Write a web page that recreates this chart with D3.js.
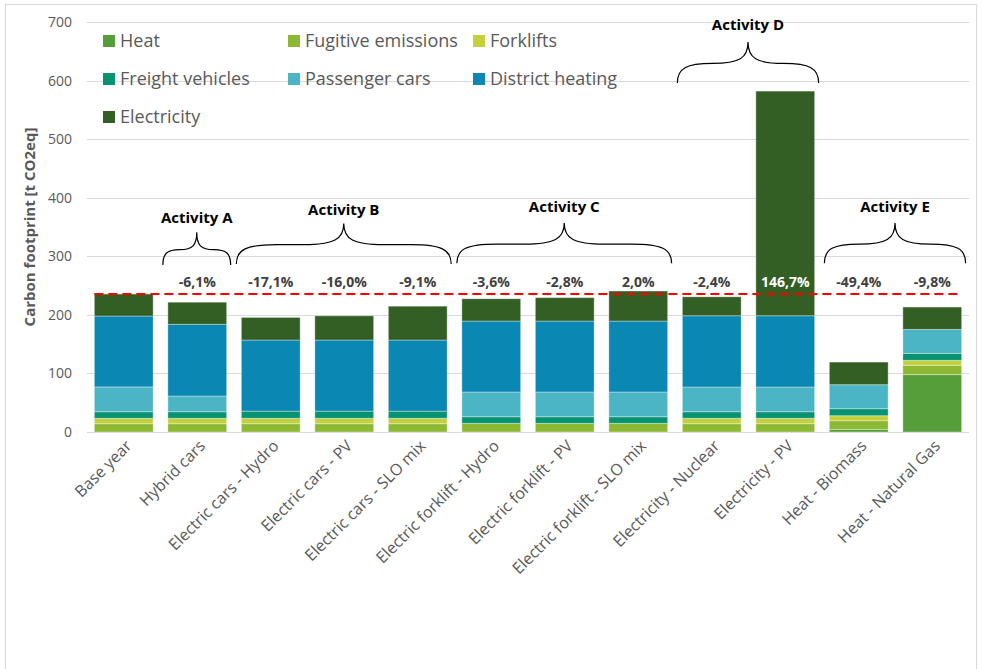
<!DOCTYPE html>
<html>
<head>
<meta charset="utf-8">
<script src="https://cdn.jsdelivr.net/npm/d3@7"></script>
<style>
  body { margin: 0; background: #fff; }
  text { font-family: "Open Sans", sans-serif; }
</style>
</head>
<body>
<script>
var categories = ["Base year", "Hybrid cars", "Electric cars - Hydro", "Electric cars - PV", "Electric cars - SLO mix",
  "Electric forklift - Hydro", "Electric forklift - PV", "Electric forklift - SLO mix", "Electricity - Nuclear",
  "Electricity - PV", "Heat - Biomass", "Heat - Natural Gas"];

// stacked bottom -> top
var seriesNames = ["Heat", "Fugitive emissions", "Forklifts", "Freight vehicles", "Passenger cars", "District heating", "Electricity"];
var heat      = [0, 0, 0, 0, 0, 0, 0, 0, 0, 0, 4.6, 98];
var fugitive  = [14.2, 14.2, 14.2, 14.2, 14.2, 14.8, 14.8, 14.8, 14.2, 14.2, 14.7, 15.8];
var forklifts = [9.2, 9.2, 9.2, 9.2, 9.2, 0, 0, 0, 9.2, 9.2, 8.5, 8.6];
var freight   = [11.2, 11.2, 12.2, 12.2, 12.2, 11.3, 11.3, 11.3, 11.2, 11.2, 12, 11.9];
var passenger = [42.4, 26.8, 0, 0, 0, 42.2, 42.2, 42.2, 42.2, 42.2, 41, 40.9];
var district  = [121, 122.4, 121.4, 121.4, 121.4, 121.1, 121.1, 121.1, 121.7, 121.7, 0, 0];
var electricity = [37.5, 37.8, 38.6, 41.3, 57.8, 38.1, 40, 51.3, 32.3, 383.5, 38.6, 38.1];

var changeLabels = ["", "-6,1%", "-17,1%", "-16,0%", "-9,1%", "-3,6%", "-2,8%", "2,0%", "-2,4%", "146,7%", "-49,4%", "-9,8%"];
var baseline = 235.5;

var activities = [
  {name: "Activity A", from: 1, to: 1, tip: 341, end: 285, label: 365},
  {name: "Activity B", from: 2, to: 4, tip: 356, end: 287, label: 379},
  {name: "Activity C", from: 5, to: 7, tip: 357, end: 288, label: 384},
  {name: "Activity D", from: 8, to: 9, tip: 666, end: 596, label: 696},
  {name: "Activity E", from: 10, to: 11, tip: 357, end: 288, label: 384}
];

var colours = ["#559e3a", "#8cb833", "#c5d13c", "#079372", "#4bb4c5", "#0a87b2", "#335f25"];
var yTicks = [0, 100, 200, 300, 400, 500, 600, 700];

var W = 982, H = 669;
var svg = d3.select("body").append("svg").attr("width", W).attr("height", H);

svg.append("rect").attr("x", 5.5).attr("y", 4.5).attr("width", 971).attr("height", 700)
  .attr("fill", "#fff").attr("stroke", "#d9d9d9");

var x = d3.scaleBand().domain(categories).range([87, 969]).paddingInner(0.2).paddingOuter(0.1);
var y = d3.scaleLinear().domain([0, 700]).range([432, 22]);

// gridlines
svg.append("g").selectAll("line").data(yTicks).enter().append("line")
  .attr("x1", 87).attr("x2", 969)
  .attr("y1", function(d){ return Math.round(y(d)) + 0.5; })
  .attr("y2", function(d){ return Math.round(y(d)) + 0.5; })
  .attr("stroke", "#d9d9d9").attr("stroke-width", 1);

// y axis labels
var yAxis = svg.append("g").attr("transform", "translate(80,0)")
  .call(d3.axisLeft(y).tickValues(yTicks).tickSize(0).tickPadding(8));
yAxis.select(".domain").remove();
yAxis.selectAll("text").attr("font-size", 14).attr("fill", "#595959").attr("font-family", "Open Sans");

svg.append("text").attr("transform", "translate(35," + ((y(0) + y(700)) / 2) + ") rotate(-90)")
  .attr("text-anchor", "middle").attr("font-size", 15).attr("font-weight", "bold").attr("fill", "#595959")
  .text("Carbon footprint [t CO2eq]");

// stacked data
var table = categories.map(function(c, i) {
  return {cat: c, "Heat": heat[i], "Fugitive emissions": fugitive[i], "Forklifts": forklifts[i],
    "Freight vehicles": freight[i], "Passenger cars": passenger[i], "District heating": district[i],
    "Electricity": electricity[i]};
});
var stacked = d3.stack().keys(seriesNames)(table);

svg.append("g").selectAll("g").data(stacked).enter().append("g")
  .attr("fill", function(d, i){ return colours[i]; })
  .selectAll("rect").data(function(d){ return d; }).enter()
  .filter(function(d){ return d[1] - d[0] > 0; })
  .append("rect")
  .attr("x", function(d){ return x(d.data.cat); })
  .attr("width", x.bandwidth())
  .attr("y", function(d){ return y(d[1]); })
  .attr("height", function(d){ return y(d[0]) - y(d[1]); })
  .attr("stroke", "#ffffff").attr("stroke-opacity", 0.35).attr("stroke-width", 1);

// baseline dashed line
svg.append("line")
  .attr("x1", x(categories[0])).attr("x2", x(categories[categories.length - 1]) + x.bandwidth())
  .attr("y1", y(baseline)).attr("y2", y(baseline))
  .attr("stroke", "#ff0000").attr("stroke-width", 2).attr("stroke-dasharray", "9,5");

// change labels
svg.append("g").selectAll("text").data(changeLabels).enter().append("text")
  .attr("x", function(d, i){ return x(categories[i]) + x.bandwidth() / 2; })
  .attr("y", 287)
  .attr("text-anchor", "middle").attr("font-size", 14).attr("font-weight", "bold")
  .attr("fill", function(d, i){ return i === 9 ? "#ffffff" : "#404040"; })
  .text(function(d){ return d; });

// x labels
svg.append("g").selectAll("text").data(categories).enter().append("text")
  .attr("transform", function(d){ return "translate(" + (x(d) + x.bandwidth() / 2 + 5) + ",443) rotate(-45)"; })
  .attr("text-anchor", "end").attr("dy", "0.35em")
  .attr("font-size", 16).attr("fill", "#595959")
  .text(function(d){ return d; });

// braces
function bracePath(x0, x1, yEnd, ySh, yTip) {
  var mid = (x0 + x1) / 2, r = Math.min(40, (x1 - x0) / 4), h = yEnd - ySh, t = ySh - yTip;
  return "M" + x0 + "," + yEnd +
    "C" + x0 + "," + (ySh + h * 0.25) + " " + (x0 + r * 0.25) + "," + ySh + " " + (x0 + r) + "," + ySh +
    "L" + (mid - r) + "," + ySh +
    "C" + (mid - r * 0.25) + "," + ySh + " " + mid + "," + (ySh - t * 0.25) + " " + mid + "," + yTip +
    "C" + mid + "," + (ySh - t * 0.25) + " " + (mid + r * 0.25) + "," + ySh + " " + (mid + r) + "," + ySh +
    "L" + (x1 - r) + "," + ySh +
    "C" + (x1 - r * 0.25) + "," + ySh + " " + x1 + "," + (ySh + h * 0.25) + " " + x1 + "," + yEnd;
}
var br = svg.append("g");
activities.forEach(function(a) {
  var x0 = x(categories[a.from]) - 5, x1 = x(categories[a.to]) + x.bandwidth() + 4;
  var yE = y(a.end), yT = y(a.tip), yS = (yE + yT) / 2 + 1;
  br.append("path").attr("d", bracePath(x0, x1, yE, yS, yT))
    .attr("fill", "none").attr("stroke", "#000").attr("stroke-width", 1.2);
  br.append("text").attr("x", (x0 + x1) / 2).attr("y", y(a.label)).attr("dy", "0.35em")
    .attr("text-anchor", "middle").attr("font-size", 15).attr("font-weight", "bold").attr("fill", "#000")
    .text(a.name);
});

// legend
var legendOrder = ["Heat", "Fugitive emissions", "Forklifts", "Freight vehicles", "Passenger cars", "District heating", "Electricity"];
var lg = svg.append("g").selectAll("g").data(legendOrder).enter().append("g")
  .attr("transform", function(d, i){ return "translate(" + (103 + (i % 3) * 185) + "," + (41 + Math.floor(i / 3) * 38) + ")"; });
lg.append("rect").attr("x", 0).attr("y", -6).attr("width", 12).attr("height", 12)
  .attr("fill", function(d){ return colours[seriesNames.indexOf(d)]; });
lg.append("text").attr("x", 17).attr("y", 0).attr("dy", "0.35em")
  .attr("font-size", 18).attr("fill", "#595959").text(function(d){ return d; });
</script>
</body>
</html>
